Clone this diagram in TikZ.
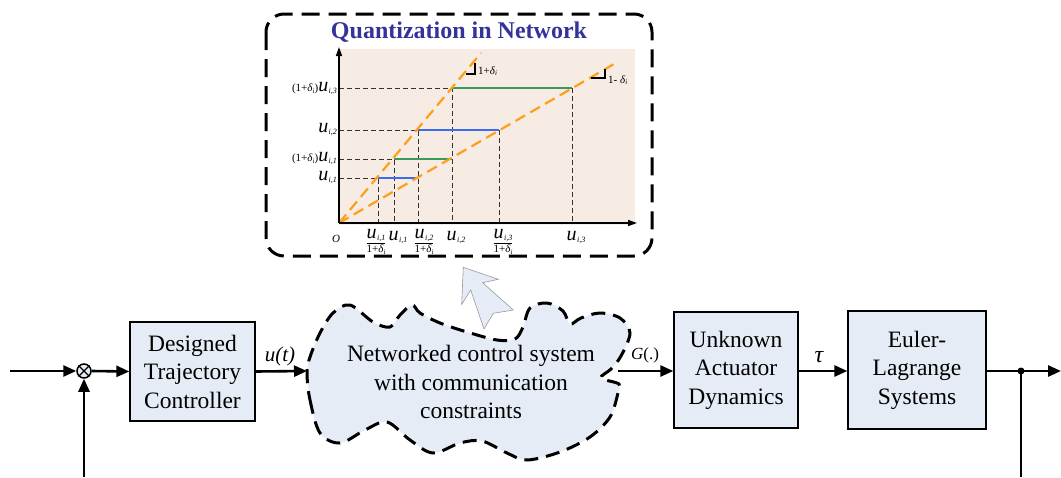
\documentclass[tikz,border=0pt]{standalone}
\usepackage{fontspec}
\setmainfont{Liberation Serif}
\usetikzlibrary{arrows.meta}
\definecolor{boxblue}{HTML}{E6ECF6}
\definecolor{beige}{HTML}{F6ECE4}
\definecolor{qorange}{HTML}{FF9E1B}
\definecolor{qgreen}{HTML}{3A9A5A}
\definecolor{qblue}{HTML}{3B6CF0}
\definecolor{titleblue}{HTML}{33339A}
\newcommand{\uu}[1]{{\fontsize{20}{20}\selectfont\itshape u}\kern0.3pt\raisebox{-2pt}{\fontsize{8}{8}\selectfont\itshape #1}}
\newcommand{\opd}{{\fontsize{11}{11}\selectfont (1+\textit{δ}\raisebox{-1.5pt}{\fontsize{7}{7}\selectfont\textit{i}})}}
\newcommand{\dd}{{\fontsize{11}{11}\selectfont 1+\textit{δ}\raisebox{-1.5pt}{\fontsize{7}{7}\selectfont\textit{i}}}}
\newcommand{\fr}[1]{$\displaystyle\frac{\mbox{\uu{#1}}}{\mbox{\dd}}$}
\begin{document}
\begin{tikzpicture}[x=1pt,y=-1pt,
  block/.style={draw=black, line width=1.3pt, fill=boxblue, align=center,
    font=\fontsize{23.5}{28.5}\selectfont, inner sep=0pt},
  sig/.style={line width=2.6pt, -{Triangle[length=13pt,width=11pt]}},
  axisline/.style={line width=1.5pt, -{Triangle[length=9pt,width=6pt]}},
  guide/.style={black!80, line width=0.9pt, dash pattern=on 5pt off 3pt},
  ora/.style={qorange, line width=2.2pt, dash pattern=on 11pt off 6pt},
  lev/.style={line width=2.2pt},
  lab/.style={inner sep=0pt},
  cloudtext/.style={align=center, font=\fontsize{23.5}{28.5}\selectfont}
]
\useasboundingbox (0,0) rectangle (1061,477);

% ---------- quantization inset ----------
\draw[line width=3pt, dash pattern=on 18pt off 9pt, rounded corners=18pt]
  (266,14) rectangle (652,256);
\node[text=titleblue, font=\fontsize{24}{24}\selectfont\bfseries] (title) at (459,32) {Quantization in Network};

\fill[beige] (339,49) rectangle (635,225);
\coordinate (O) at (339,223);
% guides
\draw[guide] (339,178) -- (378,178) -- (378,223);
\draw[guide] (339,159) -- (394,159) -- (394,223);
\draw[guide] (339,130) -- (418,130) -- (418,223);
\draw[guide] (339,88) -- (452,88) -- (452,223);
\draw[guide] (499,130) -- (499,223);
\draw[guide] (572,88) -- (572,223);
% levels
\draw[lev, qblue] (378,178) -- (418,178);
\draw[lev, qgreen] (394,159) -- (452,159);
\draw[lev, qblue] (418,130) -- (499,130);
\draw[lev, qgreen] (452,88) -- (572,88);
\draw[lev, qgreen] (339,223) -- (394,223);
% sector lines
\draw[ora] (O) -- (481,53);
\draw[ora] (O) -- (614,64);
% axes
\draw[axisline] (O) -- (339,47);
\draw[axisline] (O) -- (637,223);
% slope marks
\draw[line width=1.6pt] (466,74) -- (475,74) -- (475,63);
\node[lab, anchor=west] (s1) at (478,71) {\dd};
\draw[line width=1.6pt] (591,78) -- (605,78) -- (605,69);
\node[lab, anchor=west] (s2) at (608,80) {{\fontsize{11}{11}\selectfont 1- \textit{δ}\raisebox{-1.5pt}{\fontsize{7}{7}\selectfont\textit{i}}}};
% y labels
\node[lab, anchor=east] (y3) at (337,89) {\opd\uu{i,3}};
\node[lab, anchor=east] (y2) at (337,130) {\uu{i,2}};
\node[lab, anchor=east] (y1p) at (337,159) {\opd\uu{i,1}};
\node[lab, anchor=east] (y1) at (337,178) {\uu{i,1}};
% x labels
\node[lab] (xo) at (336,239) {{\fontsize{11}{11}\selectfont\itshape O}};
\node[lab] (x1) at (376,242) {\fr{i,1}};
\node[lab] (x2) at (398,238) {\uu{i,1}};
\node[lab] (x3) at (424,242) {\fr{i,2}};
\node[lab] (x4) at (456,238) {\uu{i,2}};
\node[lab] (x5) at (503,242) {\fr{i,3}};
\node[lab] (x6) at (576,238) {\uu{i,3}};

% ---------- callout arrow ----------
\draw[fill=boxblue, draw=gray!80, line width=0.6pt]
  (463.3,267.3) -- (498.3,279.3) -- (482.7,282.7) -- (513.3,310) -- (493.3,313.3)
  -- (484,329) -- (470.7,290) -- (461.7,304.3) -- cycle;

% ---------- cloud ----------
\draw[fill=boxblue, line width=3pt, dash pattern=on 14pt off 8pt]
  plot[smooth cycle, tension=0.55] coordinates {
   (307,373) (310,400) (320,433) (340,443) (365,430) (387,422) (410,440)
   (433,453) (460,443) (482,441) (507,453) (527,460) (560,452) (590,437)
   (610,417) (618,393) (619,384) (601,378) (611,369) (621,356) (630,333)
   (620,318) (600,313) (581,318) (570,324) (563,311) (547,303) (530,308)
   (523,327) (515,339) (497,340) (467,332) (440,323) (420,313) (412,305)
   (400,315) (390,327) (373,322) (350,305) (333,313) (320,333) (310,357)};
\node[cloudtext] (ncs) at (471,382) {Networked control system\\with communication\\constraints};
\coordinate (cloudL) at (307,371);
\coordinate (cloudR) at (618,371);

% ---------- block diagram ----------
\coordinate (in) at (10,371);
\node[circle, draw, line width=1.5pt, fill=boxblue, minimum size=14pt, inner sep=0pt] (sum) at (84,371) {};
\draw[line width=1.3pt] (sum.north west) -- (sum.south east) (sum.north east) -- (sum.south west);
\node[block, minimum width=125pt, minimum height=99pt] (ctrl) at (192.5,371.5) {Designed\\Trajectory\\Controller};
\node[block, minimum width=124pt, minimum height=116pt] (act) at (736,370) {Unknown\\Actuator\\Dynamics};
\node[block, minimum width=138pt, minimum height=118pt] (el) at (917,370) {Euler-\\Lagrange\\Systems};
\coordinate (fbin) at (84,477);
\coordinate (dot) at (1021,371);
\coordinate (out) at (1061,371);
\coordinate (fbout) at (1021,477);

\draw[sig] (in) -- (sum.west);
\draw[sig] (fbin) -- (sum.south);
\draw[sig] (sum.east) -- (ctrl.west);
\draw[sig] (ctrl.east) -- (cloudL);
\draw[sig] (cloudR) -- (act.west |- cloudR);
\draw[sig] (act.east |- dot) -- (el.west |- dot);
\draw[sig] (el.east |- dot) -- (out);
\draw[line width=2.6pt] (dot) -- (fbout);
\fill (dot) circle (3.5pt);

\node[lab, font=\fontsize{21}{21}\selectfont\itshape] (ut) at (280,356) {u(t)};
\node[lab, font=\fontsize{17}{17}\selectfont] (gl) at (645,355) {\textit{G}(.)};
\node[lab, font=\fontsize{24}{24}\selectfont\itshape] (tau) at (819,357) {τ};
\end{tikzpicture}
\end{document}
